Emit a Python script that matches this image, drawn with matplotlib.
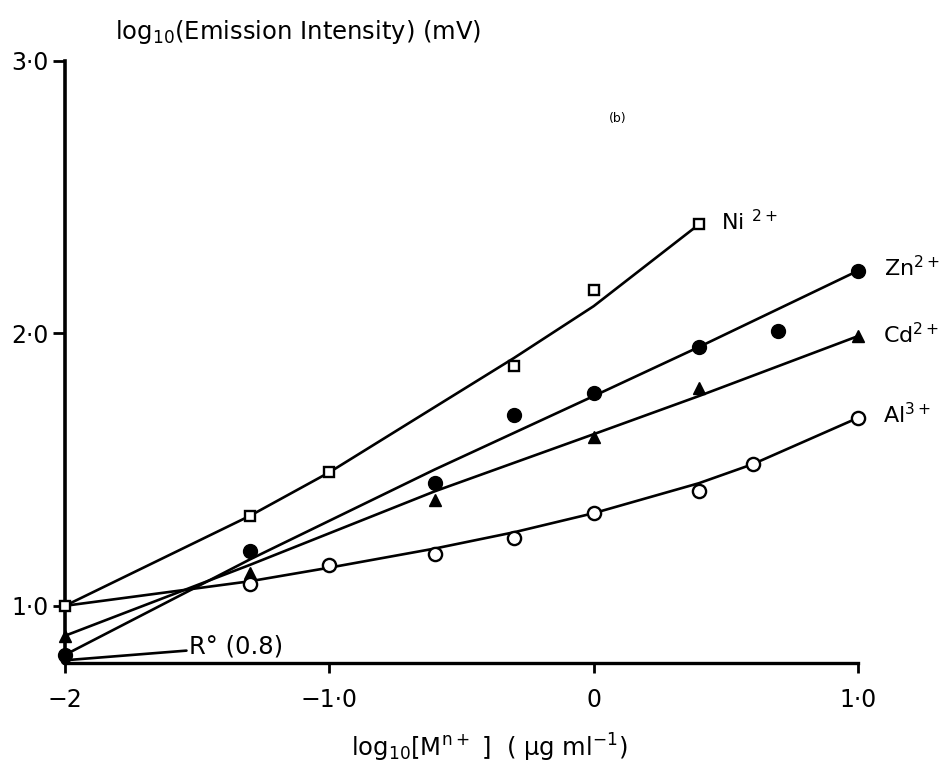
import numpy as np
import matplotlib.pyplot as plt

plt.rcParams['font.family'] = ['DejaVu Sans']
plt.rcParams['mathtext.default'] = 'regular'

# log10 of concentration (ug/ml): 0.01, 0.05, 0.1, 0.25, 0.5, 1, 2.5, 4, 5, 10
ni_x = [-2.0, -1.301, -1.0, -0.301, 0.0, 0.398]
ni_y = [1.00, 1.33, 1.49, 1.88, 2.16, 2.40]
zn_x = [-2.0, -1.301, -0.602, -0.301, 0.0, 0.398, 0.699, 1.0]
zn_y = [0.82, 1.20, 1.45, 1.70, 1.78, 1.95, 2.01, 2.23]
cd_x = [-2.0, -1.301, -0.602, 0.0, 0.398, 1.0]
cd_y = [0.89, 1.12, 1.39, 1.62, 1.80, 1.99]
al_x = [-1.301, -1.0, -0.602, -0.301, 0.0, 0.398, 0.602, 1.0]
al_y = [1.08, 1.15, 1.19, 1.25, 1.34, 1.42, 1.52, 1.69]

# hand-fitted calibration curves
ni_fit_x = [-2.0, -1.301, -1.0, -0.301, 0.0, 0.398]
ni_fit_y = [1.00, 1.33, 1.49, 1.91, 2.10, 2.40]
zn_fit_x = [-2.0, -1.301, -0.602, 0.0, 0.398, 0.699, 1.0]
zn_fit_y = [0.82, 1.17, 1.50, 1.77, 1.95, 2.09, 2.23]
cd_fit_x = [-2.0, -1.301, -0.602, 0.0, 0.398, 1.0]
cd_fit_y = [0.89, 1.15, 1.42, 1.63, 1.77, 1.99]
al_fit_x = [-2.0, -1.301, -1.0, -0.602, -0.301, 0.0, 0.398, 0.602, 1.0]
al_fit_y = [1.00, 1.09, 1.14, 1.21, 1.27, 1.34, 1.45, 1.52, 1.69]

r0 = 0.8  # reagent blank

xticks = [-2, -1, 0, 1]
xticklabels = ['\u22122', '\u22121\u00b70', '0', '1\u00b70']
yticks = [1, 2, 3]
yticklabels = ['1\u00b70', '2\u00b70', '3\u00b70']

fig = plt.figure(figsize=(9.44, 7.65), dpi=100)
ax = fig.add_axes([65 / 944, 1 - 663 / 765, (858 - 65) / 944, (663 - 61) / 765])

lw = 1.9
for fx, fy in [(ni_fit_x, ni_fit_y), (zn_fit_x, zn_fit_y),
               (cd_fit_x, cd_fit_y), (al_fit_x, al_fit_y)]:
    ax.plot(fx, fy, color='black', lw=lw, solid_capstyle='round',
            solid_joinstyle='round', zorder=2)

ax.plot(ni_x, ni_y, ls='none', marker='s', ms=7.5, mfc='white', mec='black',
        mew=1.7, clip_on=False, zorder=4)
ax.plot(zn_x, zn_y, ls='none', marker='o', ms=10, mfc='black', mec='black',
        clip_on=False, zorder=4)
ax.plot(cd_x, cd_y, ls='none', marker='^', ms=9, mfc='black', mec='black',
        clip_on=False, zorder=4)
ax.plot(al_x, al_y, ls='none', marker='o', ms=9.5, mfc='white', mec='black',
        mew=1.7, clip_on=False, zorder=4)

fs = 17.5
lab = dict(textcoords='offset points', fontsize=16, va='center', ha='left')
ax.annotate('Ni $^{2+}$', (ni_x[-1], ni_y[-1]), xytext=(16, 2), **lab)
ax.annotate('Zn$^{2+}$', (zn_x[-1], zn_y[-1]), xytext=(19, 2), **lab)
ax.annotate('Cd$^{2+}$', (cd_x[-1], cd_y[-1]), xytext=(18, 1), **lab)
ax.annotate('Al$^{3+}$', (al_x[-1], al_y[-1]), xytext=(18, 2), **lab)

ax.annotate('R\u00b0 (0.8)', (-2, r0), xytext=(-1.53, 0.85), fontsize=fs,
            va='center', ha='left',
            arrowprops=dict(arrowstyle='-', color='black', lw=lw,
                            shrinkA=0, shrinkB=4))
ax.plot([-2], [r0], ls='none', marker='o', ms=6, color='black',
        clip_on=False, zorder=4)

ax.text(0.09, 2.79, '(b)', fontsize=9, ha='center', va='center')

ax.set_xlim(-2, 1.0)
ax.set_ylim(0.79, 3.0)
ax.set_xticks(xticks)
ax.set_xticklabels(xticklabels)
ax.set_yticks(yticks)
ax.set_yticklabels(yticklabels)
ax.tick_params(axis='both', labelsize=17, width=2, color='black')
ax.tick_params(axis='x', direction='out', length=7, pad=11)
ax.tick_params(axis='y', direction='out', length=9, pad=3)

for side in ['top', 'right']:
    ax.spines[side].set_visible(False)
ax.spines['left'].set_linewidth(2.6)
ax.spines['bottom'].set_linewidth(2.4)

fig.text(115 / 944, 1 - 32 / 765, 'log$_{10}$(Emission Intensity) (mV)',
         fontsize=fs, ha='left', va='center')
fig.text(489 / 944, 1 - 748 / 765,
         'log$_{10}$[M$^{n+}$ ]  ( \u03bcg ml$^{-1}$)',
         fontsize=fs, ha='center', va='center')

fig.savefig('out.png', dpi=100)
